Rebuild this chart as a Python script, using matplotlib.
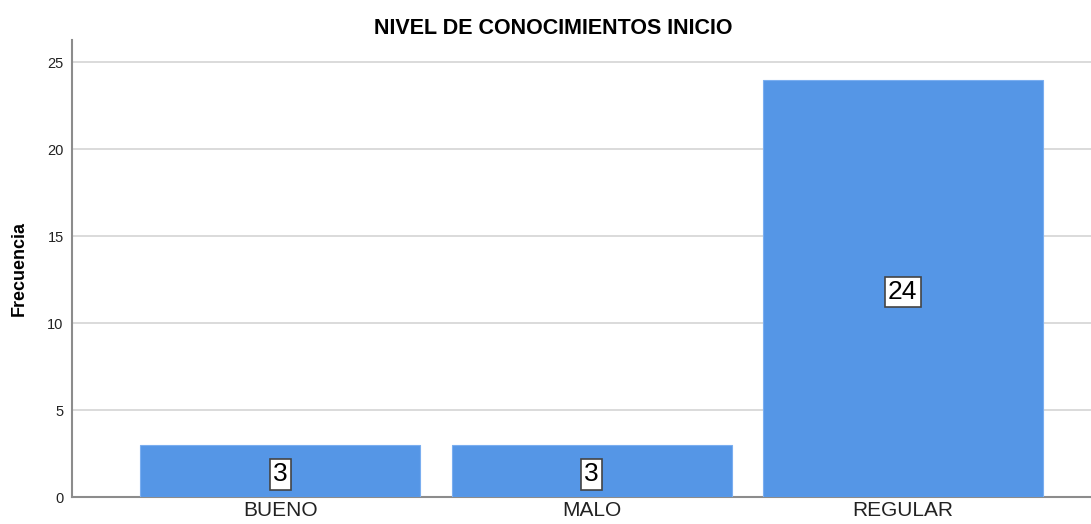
import matplotlib.pyplot as plt

categorias = ['BUENO', 'MALO', 'REGULAR']
frecuencias = [3, 3, 24]
yticks = [0, 5, 10, 15, 20, 25]

plt.rcParams['font.family'] = ['Liberation Sans', 'DejaVu Sans']

fig = plt.figure(figsize=(10.91, 5.24), dpi=100)
ax = fig.add_axes([0.066, 0.0515, 0.934, 0.8725])

x = range(len(categorias))
bars = ax.bar(x, frecuencias, width=0.9, color='#5596e6', edgecolor='#7aaef0', linewidth=0.8, zorder=3)

for b, v in zip(bars, frecuencias):
    ax.text(b.get_x() + b.get_width() / 2, v / 2 - 0.2, str(v), ha='center', va='center', fontsize=19,
            color='black', zorder=4,
            bbox=dict(boxstyle='square,pad=0.12', facecolor='white', edgecolor='#444444', linewidth=1.2))

ax.set_xlim(-0.67, 2.605)
ax.set_ylim(0, 26.3)
ax.set_yticks(yticks)
ax.set_xticks(list(x))
ax.set_xticklabels(categorias, fontsize=15, color='#222222')
ax.tick_params(axis='y', length=0, labelsize=10.5, colors='#222222', pad=6)
ax.tick_params(axis='x', length=0, pad=3)
ax.yaxis.grid(True, color='#d4d4d4', linewidth=1.2, zorder=0)

for s in ['top', 'right']:
    ax.spines[s].set_visible(False)
for s in ['left', 'bottom']:
    ax.spines[s].set_color('#8c8c8c')
    ax.spines[s].set_linewidth(1.5)

ax.set_ylabel('Frecuencia', fontsize=13, fontweight='bold', labelpad=14)
fig.suptitle('NIVEL DE CONOCIMIENTOS INICIO', fontsize=15.5, fontweight='bold', y=0.965, x=0.507)

fig.savefig('out.png', dpi=100)
